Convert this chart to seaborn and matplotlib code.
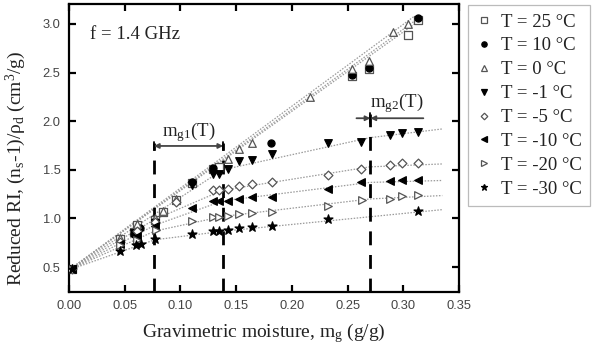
import numpy as np
import pandas as pd
import matplotlib
matplotlib.use("Agg")
import matplotlib.pyplot as plt
import seaborn as sns
from matplotlib.lines import Line2D

# ---------------- data ----------------
labels = ["T = 25 °C", "T = 10 °C", "T = 0 °C", "T = -1 °C",
          "T = -5 °C", "T = -10 °C", "T = -20 °C", "T = -30 °C"]

x25 = [0.003, 0.046, 0.058, 0.061, 0.077, 0.084, 0.096, 0.110, 0.129, 0.135, 0.254, 0.269, 0.304, 0.313]
y25 = [0.48, 0.79, 0.86, 0.93, 0.98, 1.07, 1.19, 1.36, 1.51, 1.53, 2.46, 2.54, 2.89, 3.04]

x10 = [0.003, 0.058, 0.064, 0.077, 0.110, 0.129, 0.181, 0.254, 0.269, 0.313]
y10 = [0.48, 0.84, 0.90, 0.97, 1.37, 1.52, 1.78, 2.47, 2.55, 3.06]

x0 = [0.003, 0.046, 0.061, 0.077, 0.084, 0.096, 0.143, 0.153, 0.164, 0.216, 0.254, 0.269, 0.291, 0.304]
y0 = [0.48, 0.80, 0.94, 1.00, 1.08, 1.20, 1.61, 1.71, 1.78, 2.25, 2.54, 2.62, 2.92, 3.00]

xm1 = [0.003, 0.058, 0.077, 0.110, 0.129, 0.135, 0.143, 0.153, 0.164, 0.182, 0.232, 0.262, 0.288, 0.299, 0.313]
ym1 = [0.48, 0.85, 0.95, 1.34, 1.46, 1.46, 1.51, 1.59, 1.60, 1.66, 1.78, 1.79, 1.86, 1.88, 1.89]

xm5 = [0.003, 0.046, 0.061, 0.077, 0.096, 0.129, 0.135, 0.143, 0.153, 0.164, 0.182, 0.232, 0.262, 0.288, 0.299, 0.313]
ym5 = [0.48, 0.76, 0.87, 0.96, 1.17, 1.29, 1.29, 1.30, 1.33, 1.35, 1.37, 1.45, 1.51, 1.55, 1.57, 1.57]

xm10 = [0.003, 0.046, 0.061, 0.077, 0.110, 0.129, 0.135, 0.143, 0.153, 0.164, 0.182, 0.232, 0.262, 0.288, 0.299, 0.313]
ym10 = [0.48, 0.74, 0.82, 0.92, 1.11, 1.18, 1.18, 1.18, 1.20, 1.22, 1.225, 1.30, 1.37, 1.385, 1.40, 1.40]

xm20 = [0.003, 0.046, 0.061, 0.078, 0.110, 0.129, 0.135, 0.143, 0.153, 0.164, 0.182, 0.232, 0.263, 0.288, 0.299, 0.313]
ym20 = [0.48, 0.73, 0.78, 0.88, 0.97, 1.01, 1.01, 1.02, 1.045, 1.06, 1.07, 1.13, 1.19, 1.20, 1.23, 1.24]

xm30 = [0.003, 0.046, 0.060, 0.065, 0.077, 0.110, 0.129, 0.135, 0.143, 0.153, 0.164, 0.182, 0.232, 0.313]
ym30 = [0.48, 0.665, 0.73, 0.74, 0.785, 0.835, 0.87, 0.87, 0.88, 0.90, 0.91, 0.92, 0.99, 1.08]

# fitted-line knots (dotted lines)
fx25, fy25 = [0.0, 0.315], [0.47, 3.04]
fx10, fy10 = [0.0, 0.315], [0.47, 3.07]
fx0, fy0 = [0.0, 0.310], [0.47, 3.08]
fxm1, fym1 = [0.0, 0.138, 0.27, 0.335], [0.47, 1.50, 1.83, 1.92]
fxm5, fym5 = [0.0, 0.077, 0.138, 0.27, 0.335], [0.47, 0.99, 1.29, 1.53, 1.56]
fxm10, fym10 = [0.0, 0.077, 0.138, 0.27, 0.335], [0.47, 0.93, 1.18, 1.37, 1.39]
fxm20, fym20 = [0.0, 0.077, 0.138, 0.27, 0.335], [0.47, 0.87, 1.02, 1.20, 1.235]
fxm30, fym30 = [0.0, 0.077, 0.14, 0.335], [0.47, 0.78, 0.87, 1.09]

mg1_lo, mg1_hi, mg2 = 0.0762, 0.1384, 0.2705

# ---------------- style ----------------
sns.set_theme(style="ticks")
plt.rcParams["font.family"] = ["Liberation Serif", "DejaVu Serif"]
plt.rcParams["mathtext.fontset"] = "custom"
plt.rcParams["mathtext.rm"] = "Liberation Serif"
plt.rcParams["mathtext.it"] = "Liberation Serif:italic"

fig = plt.figure(figsize=(6.02, 3.5), dpi=100)
ax = fig.add_axes([69/602, 1-292/350, (459-69)/602, (292-4)/350])

series = [
    (x25, y25, fx25, fy25, "s", "white", "#555555", 26),
    (x10, y10, fx10, fy10, "o", "black", "black", 26),
    (x0, y0, fx0, fy0, "^", "white", "#555555", 30),
    (xm1, ym1, fxm1, fym1, "v", "black", "black", 30),
    (xm5, ym5, fxm5, fym5, "D", "white", "#555555", 20),
    (xm10, ym10, fxm10, fym10, "<", "black", "black", 30),
    (xm20, ym20, fxm20, fym20, ">", "white", "#555555", 30),
    (xm30, ym30, fxm30, fym30, "*", "black", "black", 45),
]

for xs, ys, fx, fy, *_ in series:
    sns.lineplot(x=fx, y=fy, ax=ax, color="#9a9a9a", lw=0.9,
                 linestyle=(0, (1.2, 1.2)), sort=False, estimator=None, legend=False)

for xs, ys, fx, fy, mk, fc, ec, s in series:
    sns.scatterplot(x=xs, y=ys, ax=ax, marker=mk, s=s, color=fc,
                    edgecolor=ec, linewidth=0.9, legend=False, zorder=3)

# vertical dashed lines
dash = (0, (5, 3.5))
ax.plot([mg1_lo, mg1_lo], [0.24, 1.78], color="black", lw=2, linestyle=dash, zorder=2)
ax.plot([mg1_hi, mg1_hi], [0.24, 1.78], color="black", lw=2, linestyle=dash, zorder=2)
ax.plot([mg2, mg2], [0.24, 2.07], color="black", lw=2, linestyle=dash, zorder=2)

# brackets
ax.annotate("", xy=(mg1_lo, 1.745), xytext=(mg1_hi, 1.745),
            arrowprops=dict(arrowstyle="<|-|>", color="#444444", lw=1.3,
                            mutation_scale=7, shrinkA=0, shrinkB=0))
ax.plot([mg1_lo, mg1_lo], [1.70, 1.79], color="black", lw=1.3)
ax.plot([mg1_hi, mg1_hi], [1.70, 1.79], color="black", lw=1.3)
ax.annotate("", xy=(mg2, 2.03), xytext=(0.258, 2.03),
            arrowprops=dict(arrowstyle="-|>", color="#444444", lw=1.3,
                            mutation_scale=7, shrinkA=0, shrinkB=0))
ax.annotate("", xy=(mg2, 2.03), xytext=(0.318, 2.03),
            arrowprops=dict(arrowstyle="-|>", color="#444444", lw=1.3,
                            mutation_scale=7, shrinkA=0, shrinkB=0))
ax.plot([mg2, mg2], [1.98, 2.08], color="black", lw=1.3)

ax.text(0.107, 1.89, r"m$_{\mathrm{g1}}$(T)", ha="center", va="center", fontsize=13.5, color="#222222")
ax.text(0.294, 2.19, r"m$_{\mathrm{g2}}$(T)", ha="center", va="center", fontsize=13.5, color="#222222")
ax.text(0.019, 2.89, "f = 1.4 GHz", ha="left", va="center", fontsize=13.5, color="#222222")

# axes
ax.set_xlim(0, 0.35)
ax.set_ylim(0.243, 3.205)
ax.set_xticks(np.arange(0, 0.351, 0.05))
ax.set_yticks(np.arange(0.5, 3.01, 0.5))
ax.set_xticklabels([f"{v:.2f}" for v in np.arange(0, 0.351, 0.05)])
ax.set_yticklabels([f"{v:.1f}" for v in np.arange(0.5, 3.01, 0.5)])
for lab in ax.get_xticklabels() + ax.get_yticklabels():
    lab.set_fontfamily(["Liberation Sans", "DejaVu Sans"])
    lab.set_fontsize(9.3)
    lab.set_color("#444444")
ax.tick_params(direction="in", length=5, width=1.6, top=True, right=True, pad=6, color="black")
for sp in ax.spines.values():
    sp.set_linewidth(1.6)
    sp.set_color("black")

ax.set_xlabel(r"Gravimetric moisture, m$_{\mathrm{g}}$ (g/g)", fontsize=14, color="#222222", labelpad=6)
ax.set_ylabel(r"Reduced RI, (n$_{\mathrm{s}}$-1)/ρ$_{\mathrm{d}}$ (cm$^{3}$/g)", fontsize=14, color="#222222")
ax.yaxis.set_label_coords(-0.105, 0.43)

# legend
handles = []
for (xs, ys, fx, fy, mk, fc, ec, s), lab in zip(series, labels):
    ms = np.sqrt(s) * (0.75 if mk != "*" else 0.7)
    handles.append(Line2D([], [], linestyle="none", marker=mk, markersize=ms,
                          markerfacecolor=fc, markeredgecolor=ec, markeredgewidth=0.9, label=lab))
leg = fig.legend(handles=handles, loc="upper left", bbox_to_anchor=(468/602, 1-5/350),
                 frameon=True, fancybox=False, fontsize=13.5, handlelength=0.8,
                 handletextpad=0.5, labelspacing=0.36, borderpad=0.45, borderaxespad=0)
leg.get_frame().set_edgecolor("#aaaaaa")
leg.get_frame().set_linewidth(0.9)
for t in leg.get_texts():
    t.set_color("#222222")

fig.savefig("out.png", dpi=100)
